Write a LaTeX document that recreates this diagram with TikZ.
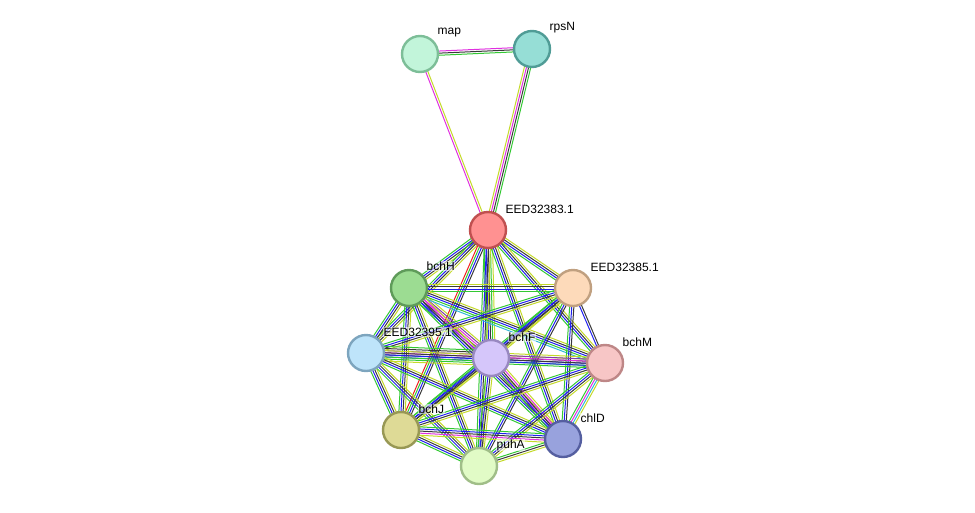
\documentclass[tikz,border=0pt]{standalone}
\usepackage{fontspec}
\setmainfont{Liberation Sans}
\usetikzlibrary{calc}
\definecolor{sgreen}{HTML}{33C833}
\definecolor{sblue}{HTML}{2020F0}
\definecolor{sblack}{HTML}{3A3A3A}
\definecolor{syel}{HTML}{C4DA2A}
\definecolor{smag}{HTML}{E030E0}
\definecolor{scyan}{HTML}{30B8D8}
\definecolor{sred}{HTML}{F02020}
\definecolor{spurple}{HTML}{8040A8}
\newcommand\stredge[4]{%
  \foreach \c [count=\i] in {#4} {%
    \pgfmathsetmacro\off{(\i-(#3+1)/2)*2.1}%
    \draw[edgeline,\c] ($(#1)!\off pt!90:(#2)$) -- ($(#2)!\off pt!-90:(#1)$);
  }}
\tikzset{
  edgeline/.style={line width=1pt},
  prot/.style={circle,minimum size=36pt,inner sep=0pt,line width=2.4pt},
  lbl/.style={anchor=west,font=\fontsize{12}{13}\selectfont,inner sep=0.5pt,fill=white,fill opacity=0.55,text opacity=1},
}
\begin{document}
\begin{tikzpicture}[x=1pt,y=-1pt]
\useasboundingbox (0,0) rectangle (975,512);
\path
  (420,54)  coordinate (map)
  (532,49)  coordinate (rpsN)
  (488,230) coordinate (e83)
  (409,288) coordinate (bchH)
  (573,288) coordinate (e85)
  (366,353) coordinate (e95)
  (491,358) coordinate (bchF)
  (605,363) coordinate (bchM)
  (401,430) coordinate (bchJ)
  (563,439) coordinate (chlD)
  (479,466) coordinate (puhA);
% edges
\stredge{map}{rpsN}{3}{sgreen,sblack,smag}
\stredge{map}{e83}{2}{smag,syel}
\stredge{rpsN}{e83}{4}{syel,smag,sblack,sgreen}
\stredge{e83}{bchH}{4}{sgreen,sblue,sblack,syel}
\stredge{e83}{e85}{4}{sgreen,sblue,sblack,syel}
\stredge{e83}{e95}{4}{sgreen,sblue,sblack,syel}
\stredge{e83}{bchF}{5}{sgreen,sblue,sblack,sgreen,syel}
\stredge{e83}{bchM}{4}{sgreen,sblue,sblack,syel}
\stredge{e83}{bchJ}{4}{sred,sgreen,sblue,sblack}
\stredge{e83}{chlD}{4}{sgreen,sblue,sblack,syel}
\stredge{e83}{puhA}{4}{sgreen,sblue,sblack,syel}
\stredge{bchH}{e85}{4}{sgreen,sblue,sblack,syel}
\stredge{bchH}{e95}{4}{sgreen,sblue,sblack,syel}
\stredge{bchH}{bchF}{6}{sgreen,sblue,sblack,smag,spurple,syel}
\stredge{bchH}{bchM}{5}{scyan,sgreen,sblue,sblack,syel}
\stredge{bchH}{bchJ}{4}{sgreen,sblue,sblack,syel}
\stredge{bchH}{chlD}{5}{sgreen,sblue,sblack,smag,syel}
\stredge{bchH}{puhA}{4}{sgreen,sblue,sblack,syel}
\stredge{e85}{e95}{4}{sgreen,sblue,sblack,syel}
\stredge{e85}{bchF}{4}{sgreen,sblue,sblack,syel}
\stredge{e85}{bchM}{2}{sblue,sblack}
\stredge{e85}{bchJ}{4}{sgreen,sblue,sblack,syel}
\stredge{e85}{chlD}{3}{sgreen,sblue,sblack}
\stredge{e85}{puhA}{3}{sgreen,sblue,sblack}
\stredge{e95}{bchF}{8}{syel,sgreen,sblue,sblack,smag,spurple,sblack,sgreen}
\stredge{e95}{bchM}{4}{sgreen,sblue,sblack,syel}
\stredge{e95}{bchJ}{4}{sgreen,sblue,sblack,syel}
\stredge{e95}{chlD}{4}{sgreen,sblue,sblack,syel}
\stredge{e95}{puhA}{4}{sgreen,sblue,sblack,syel}
\stredge{bchF}{bchM}{6}{sgreen,sblue,sblack,smag,spurple,syel}
\stredge{bchF}{bchJ}{4}{sgreen,sblue,sblack,syel}
\stredge{bchF}{chlD}{5}{sgreen,sblue,sblack,smag,syel}
\stredge{bchF}{puhA}{4}{sgreen,sblue,sblack,syel}
\stredge{bchM}{bchJ}{4}{sgreen,sblue,sblack,syel}
\stredge{bchM}{chlD}{4}{sgreen,smag,scyan,syel}
\stredge{bchM}{puhA}{4}{sgreen,sblue,sblack,syel}
\stredge{bchJ}{chlD}{5}{syel,smag,sblack,sblue,sgreen}
\stredge{bchJ}{puhA}{4}{sgreen,sblue,sblack,syel}
\stredge{chlD}{puhA}{3}{sgreen,sblack,syel}
% nodes
\node[prot,fill={rgb,255:red,194;green,245;blue,218},draw={rgb,255:red,125;green,190;blue,152}] (nmap) at (map) {};
\node[prot,fill={rgb,255:red,150;green,222;blue,214},draw={rgb,255:red,80;green,156;blue,150}] (nrpsN) at (rpsN) {};
\node[prot,fill={rgb,255:red,255;green,145;blue,145},draw={rgb,255:red,192;green,80;blue,80}] (ne83) at (e83) {};
\node[prot,fill={rgb,255:red,156;green,220;blue,146},draw={rgb,255:red,95;green,155;blue,90}] (nbchH) at (bchH) {};
\node[prot,fill={rgb,255:red,253;green,218;blue,186},draw={rgb,255:red,192;green,160;blue,128}] (ne85) at (e85) {};
\node[prot,fill={rgb,255:red,190;green,228;blue,250},draw={rgb,255:red,125;green,165;blue,190}] (ne95) at (e95) {};
\node[prot,fill={rgb,255:red,213;green,198;blue,250},draw={rgb,255:red,152;green,136;blue,192}] (nbchF) at (bchF) {};
\node[prot,fill={rgb,255:red,247;green,198;blue,198},draw={rgb,255:red,190;green,135;blue,135}] (nbchM) at (bchM) {};
\node[prot,fill={rgb,255:red,222;green,218;blue,150},draw={rgb,255:red,152;green,152;blue,85}] (nbchJ) at (bchJ) {};
\node[prot,fill={rgb,255:red,152;green,162;blue,221},draw={rgb,255:red,85;green,95;blue,160}] (nchlD) at (chlD) {};
\node[prot,fill={rgb,255:red,225;green,251;blue,198},draw={rgb,255:red,160;green,190;blue,136}] (npuhA) at (puhA) {};
% labels
\node[lbl] (lmap) at ($(map)+(17,-21)$) {map};
\node[lbl] (lrpsN) at ($(rpsN)+(17,-21)$) {rpsN};
\node[lbl] (le83) at ($(e83)+(17,-21)$) {EED32383.1};
\node[lbl] (lbchH) at ($(bchH)+(17,-22)$) {bchH};
\node[lbl] (le85) at ($(e85)+(17,-21)$) {EED32385.1};
\node[lbl] (le95) at ($(e95)+(17,-21)$) {EED32395.1};
\node[lbl] (lbchF) at ($(bchF)+(17,-21)$) {bchF};
\node[lbl] (lbchM) at ($(bchM)+(17,-21)$) {bchM};
\node[lbl] (lbchJ) at ($(bchJ)+(17,-21)$) {bchJ};
\node[lbl] (lchlD) at ($(chlD)+(17,-21)$) {chlD};
\node[lbl] (lpuhA) at ($(puhA)+(17,-21)$) {puhA};
\end{tikzpicture}
\end{document}
